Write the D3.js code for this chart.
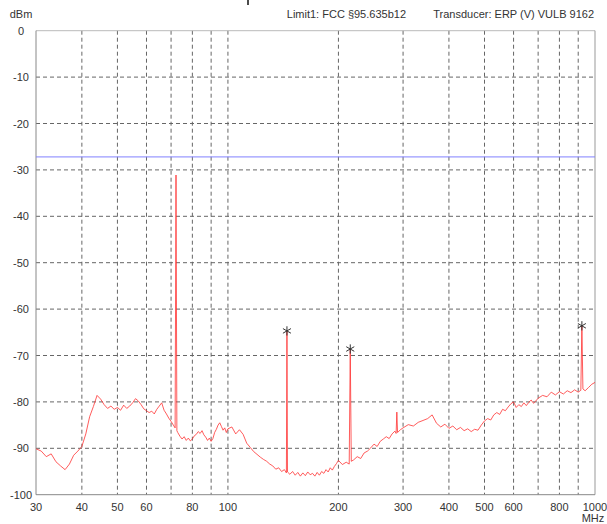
<!DOCTYPE html>
<html>
<head>
<meta charset="utf-8">
<script src="https://cdn.jsdelivr.net/npm/d3@7"></script>
<style>
  body { margin: 0; background: #fff; }
  svg { display: block; font-family: "Liberation Sans", Arial, sans-serif; }
  .grid line { stroke: #666; stroke-width: 1; stroke-dasharray: 4,3; }
  .lbl { font-size: 11px; fill: #333; }
</style>
</head>
<body>
<svg></svg>
<script>
const freqMHz = [
  30, 31, 32, 33, 34, 35, 36, 37, 38, 39, 40, 41, 42, 43, 44, 45, 46, 47, 48, 49,
  50, 51, 52, 53, 54, 55, 56, 57, 58, 59, 60, 61, 62, 63, 64, 65, 66, 67, 68, 69,
  70, 71, 71.8, 72.2, 72.6, 73, 74, 75, 76, 77, 78, 79, 80, 81, 82, 83, 84, 85, 86, 87,
  88, 89, 90, 91, 92, 93, 94, 95, 96, 97, 98, 99, 100, 102.5, 105, 107.5, 110, 112.5, 115, 117.5,
  120, 122.5, 125, 127.5, 130, 132.5, 135, 137.5, 140, 142.5, 144.3, 144.8, 145.3, 147.5, 150, 152.5, 155, 157.5,
  160, 162.5, 165, 167.5, 170, 172.5, 175, 177.5, 180, 182.5, 185, 187.5, 190, 192.5, 195, 197.5, 200, 205,
  210, 214, 215.4, 216.8, 220, 225, 230, 235, 240, 245, 250, 255, 260, 265, 270, 275, 280, 285,
  287.2, 288.5, 289.8, 295, 300, 310, 320, 330, 340, 350, 360, 370, 380, 390, 400, 410, 420, 430,
  440, 450, 460, 470, 480, 490, 500, 510, 520, 530, 540, 550, 560, 570, 580, 590, 600, 610,
  620, 630, 640, 650, 660, 670, 680, 690, 700, 720, 740, 760, 780, 800, 820, 840, 860, 880,
  900, 915, 921, 927, 940, 960, 980, 1000
];
const levelDbm = [
  -90.1, -90.6, -91.8, -91.2, -92.9, -93.8, -94.6, -93.4, -91.5, -90.6, -89.6, -86.9, -83.2, -81.0, -78.6, -79.4, -80.6, -81.4, -80.9, -81.6,
  -81.2, -81.8, -80.7, -81.4, -80.9, -80.2, -79.3, -79.8, -80.6, -81.5, -81.9, -82.3, -82.0, -82.6, -81.6, -80.9, -80.2, -81.8, -82.6, -83.5,
  -84.2, -85.0, -85.6, -31.1, -86.2, -86.6, -87.4, -88.0, -87.5, -88.3, -87.8, -88.4, -88.0, -87.3, -87.0, -86.4, -86.8, -86.2, -87.1, -87.6,
  -88.3, -87.8, -88.5, -87.9, -86.6, -85.9, -85.0, -84.5, -85.3, -86.1, -85.6, -86.6, -85.8, -85.4, -86.9, -86.0, -87.0, -88.9, -89.8, -90.7,
  -91.3, -91.9, -92.4, -92.8, -93.4, -93.8, -94.5, -94.2, -95.0, -94.6, -95.3, -64.7, -95.1, -95.6, -95.0, -95.8, -95.2, -96.0,
  -95.3, -95.9, -95.1, -95.7, -95.4, -96.0, -95.2, -95.8, -95.0, -95.4, -94.6, -95.1, -94.2, -94.7, -93.9, -93.3, -92.6, -93.5,
  -93.0, -93.4, -68.6, -92.8, -92.5, -91.8, -92.2, -91.0, -90.6, -89.9, -89.1, -89.6, -88.5, -88.0, -87.5, -87.9, -86.9, -86.3,
  -86.8, -82.2, -86.6, -86.0, -85.6, -84.9, -85.2, -84.4, -84.0, -83.6, -82.8, -84.6, -85.4, -84.8, -85.7, -85.2, -86.0, -85.5,
  -86.2, -85.8, -86.4, -85.9, -86.1, -85.0, -84.1, -83.6, -83.9, -82.8, -82.3, -82.7, -81.6, -81.9, -81.1, -80.4, -80.0, -81.2,
  -80.6, -81.0, -80.2, -80.8, -80.1, -79.6, -80.3, -79.8, -79.2, -78.6, -78.9, -77.9, -78.5, -77.8, -78.3, -77.6, -78.0, -77.4,
  -77.9, -77.5, -63.6, -77.2, -77.6, -76.9, -76.2, -75.8
];
// peak markers
const peakFreqs = [144.8, 215.4, 921];
const peakLevels = [-64.7, -68.6, -63.6];
const limitDbm = -27.2;

const xTickLabels = [30, 40, 50, 60, 80, 100, 200, 300, 400, 500, 600, 800, 1000];
const xGridFreqs = [40, 50, 60, 70, 80, 90, 100, 200, 300, 400, 500, 600, 700, 800, 900];
const yTicks = [0, -10, -20, -30, -40, -50, -60, -70, -80, -90, -100];

const width = 607, height = 524;
const svg = d3.select("svg").attr("width", width).attr("height", height);

const plotL = 36, plotR = 595, plotT = 30.7, plotB = 494.7;

const x = d3.scaleLog().domain([30, 1000]).range([plotL, plotR]);
const y = d3.scaleLinear().domain([-100, 0]).range([plotB, plotT]);

// grid
const grid = svg.append("g").attr("class", "grid");
grid.selectAll(".hg")
    .data(yTicks.filter(function (d) { return d !== 0 && d !== -100; }))
    .enter().append("line")
    .attr("x1", plotL).attr("x2", plotR)
    .attr("y1", function (d) { return y(d); })
    .attr("y2", function (d) { return y(d); });
grid.selectAll(".vg")
    .data(xGridFreqs)
    .enter().append("line")
    .attr("y1", plotT).attr("y2", plotB)
    .attr("x1", function (d) { return x(d); })
    .attr("x2", function (d) { return x(d); });

// frame
svg.append("line").attr("x1", plotL).attr("x2", plotR).attr("y1", plotT).attr("y2", plotT)
    .attr("stroke", "#bbb");
svg.append("line").attr("x1", plotR).attr("x2", plotR).attr("y1", plotT).attr("y2", plotB)
    .attr("stroke", "#999");
svg.append("line").attr("x1", plotL).attr("x2", plotL).attr("y1", plotT).attr("y2", plotB)
    .attr("stroke", "#888");
svg.append("line").attr("x1", plotL).attr("x2", plotR).attr("y1", plotB).attr("y2", plotB)
    .attr("stroke", "#888");

// limit line
svg.append("line")
    .attr("x1", plotL).attr("x2", plotR)
    .attr("y1", y(limitDbm)).attr("y2", y(limitDbm))
    .attr("stroke", "#8080ff").attr("stroke-width", 1);

// trace
const trace = freqMHz.map(function (f, i) { return [f, levelDbm[i]]; });
const line = d3.line()
    .x(function (d) { return x(d[0]); })
    .y(function (d) { return y(d[1]); });
svg.append("path")
    .datum(trace)
    .attr("d", line)
    .attr("fill", "none")
    .attr("stroke", "#ff3333")
    .attr("stroke-opacity", 0.8)
    .attr("stroke-width", 1);

// markers
const sym = d3.symbol().type(d3.symbolAsterisk).size(60);
svg.selectAll(".pk")
    .data(peakFreqs)
    .enter().append("path")
    .attr("d", sym)
    .attr("transform", function (d, i) {
        return "translate(" + x(d) + "," + y(peakLevels[i]) + ")";
    })
    .attr("fill", "none")
    .attr("stroke", "#333")
    .attr("stroke-width", 1);

// y labels
svg.selectAll(".yl")
    .data(yTicks)
    .enter().append("text")
    .attr("class", "lbl")
    .attr("x", 21)
    .attr("y", function (d) { return y(d) + 4; })
    .attr("text-anchor", "middle")
    .text(function (d) { return d; });

// x labels
svg.selectAll(".xl")
    .data(xTickLabels)
    .enter().append("text")
    .attr("class", "lbl")
    .attr("x", function (d) { return x(d); })
    .attr("y", 511)
    .attr("text-anchor", "middle")
    .text(function (d) { return d; });

svg.append("text").attr("class", "lbl").attr("x", 593).attr("y", 522)
    .attr("text-anchor", "middle").text("MHz");
svg.append("text").attr("class", "lbl").attr("x", 21).attr("y", 18)
    .attr("text-anchor", "middle").text("dBm");

// header
svg.append("text").attr("class", "lbl").attr("x", 406).attr("y", 18)
    .attr("text-anchor", "end").text("Limit1: FCC §95.635b12");
svg.append("text").attr("class", "lbl").attr("x", 594).attr("y", 18)
    .attr("text-anchor", "end").text("Transducer: ERP (V) VULB 9162");
// cropped remnant of a title above the picture
svg.append("line").attr("x1", 248).attr("x2", 248).attr("y1", 0).attr("y2", 5)
    .attr("stroke", "#111").attr("stroke-width", 1.5);
</script>
</body>
</html>
